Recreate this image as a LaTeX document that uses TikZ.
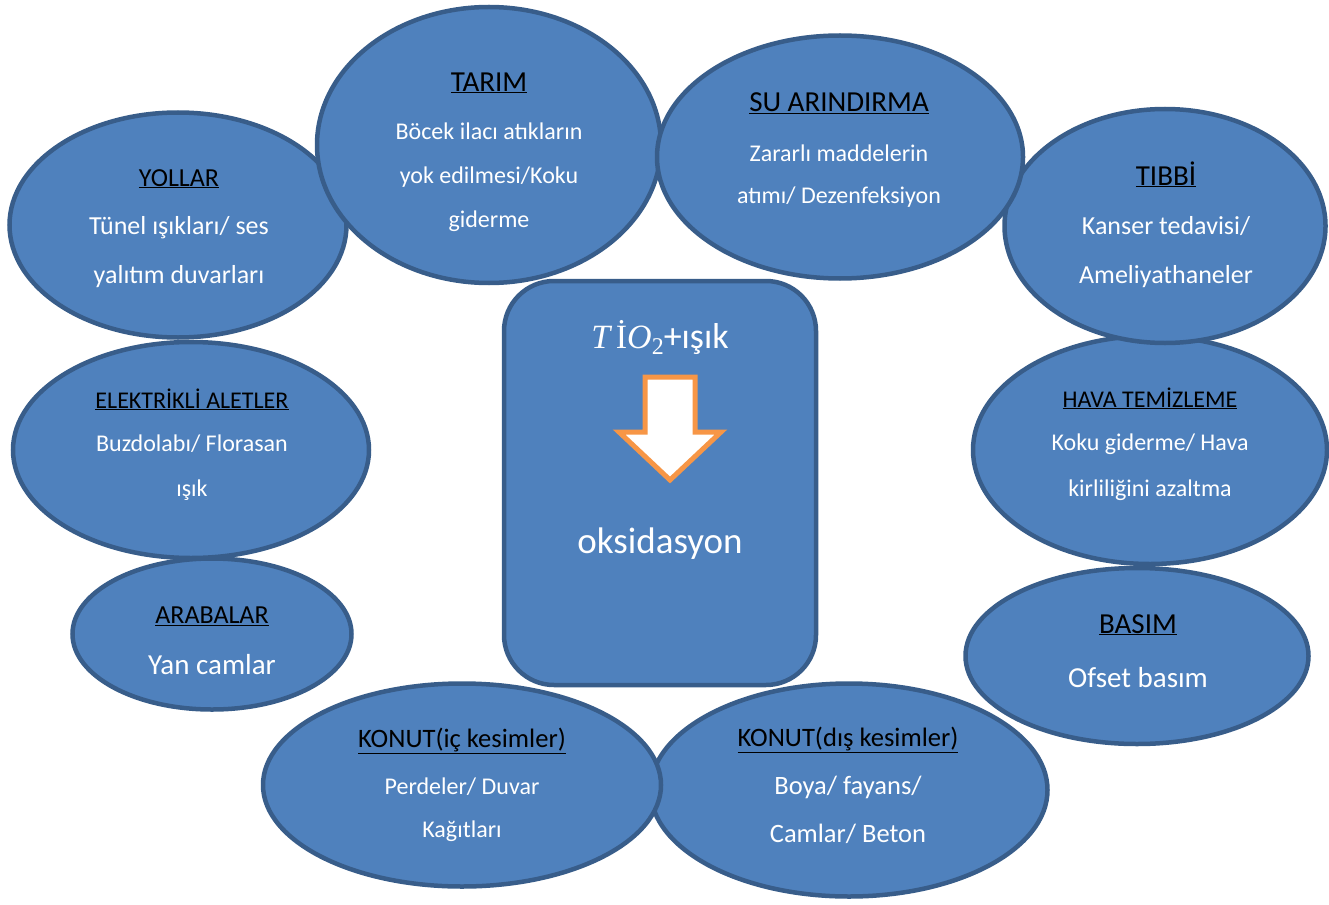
\documentclass[tikz,border=0pt]{standalone}
\usepackage{fontspec}
\setmainfont{Carlito}
\newfontfamily\serifi{Liberation Serif}
\usetikzlibrary{shapes.geometric}
\definecolor{fillblue}{HTML}{4F81BD}
\definecolor{edgeblue}{HTML}{385D8A}
\definecolor{arroworange}{HTML}{F79646}
\newcommand{\ttl}[2][24]{{\color{black}\fontsize{#1}{#1}\selectfont\underline{#2}}}
\begin{document}
\begin{tikzpicture}[x=1pt,y=-1pt,
	bubble/.style={ellipse,draw=edgeblue,fill=fillblue,line width=4.5pt,inner sep=0pt},
	txt/.style={text=white,align=center,inner sep=0pt,anchor=base}]
		\useasboundingbox (0,0) rectangle (1329,904);
		% centre box
		\node[draw=edgeblue,fill=fillblue,line width=4.5pt,rounded corners=50pt,minimum width=312pt,minimum height=404pt] (core) at (660,483) {};
		\node[txt,font=\fontsize{36}{36}\selectfont] (tio) at (660,348) {{\serifi\fontsize{34}{34}\selectfont\itshape T\,}{\serifi\fontsize{34}{34}\selectfont İ}{\serifi\fontsize{34}{34}\selectfont\itshape O}\raisebox{-6pt}{\serifi\fontsize{24}{24}\selectfont 2}+ışık};
		\draw[arroworange,line width=5pt,fill=white] (645,377) -- (695,377) -- (695,432) -- (721,432) -- (670,480) -- (619,432) -- (645,432) -- cycle;
		\node[txt,font=\fontsize{37}{37}\selectfont] (oks) at (660,553) {oksidasyon};
		% ellipses (text nodes sit on their last line)
		\node[bubble,minimum width=354pt,minimum height=228pt] (hava) at (1150,450) {};
		\node[txt,font=\fontsize{24}{46}\selectfont] (havat) at (1150,496) {\ttl{HAVA TEMİZLEME}\\[-3pt]Koku giderme/ Hava\\kirliliğini azaltma};
		\node[bubble,minimum width=321pt,minimum height=234pt] (tibbi) at (1165,226) {};
		\node[txt,font=\fontsize{26}{49}\selectfont] (tibbit) at (1166,283) {\ttl[29]{TIBBİ}\\Kanser tedavisi/\\Ameliyathaneler};
		\node[bubble,minimum width=337pt,minimum height=225pt] (yollar) at (178,225) {};
		\node[txt,font=\fontsize{26}{49}\selectfont] (yollart) at (179,283) {\ttl[26]{YOLLAR}\\[-1pt]Tünel ışıkları/ ses\\yalıtım duvarları};
		\node[bubble,minimum width=344pt,minimum height=276pt] (tarim) at (489,145) {};
		\node[txt,font=\fontsize{24}{44}\selectfont] (tarimt) at (489,227) {\ttl[29]{TARIM}\\[4pt]Böcek ilacı atıkların\\yok edilmesi/Koku\\giderme};
		\node[bubble,minimum width=366pt,minimum height=243pt] (su) at (840,157) {};
		\node[txt,font=\fontsize{24}{43}\selectfont] (sut) at (839,204) {\ttl[29]{SU ARINDIRMA}\\[6pt]Zararlı maddelerin\\atımı/ Dezenfeksiyon};
		\node[bubble,minimum width=356pt,minimum height=216pt] (elek) at (191,450) {};
		\node[txt,font=\fontsize{24}{45}\selectfont] (elekt) at (192,496) {\ttl{ELEKTRİKLİ ALETLER}\\[-2pt]Buzdolabı/ Florasan\\ışık};
		\node[bubble,minimum width=343pt,minimum height=176pt] (basim) at (1137,656) {};
		\node[txt,font=\fontsize{29}{54}\selectfont] (basimt) at (1138,687) {\ttl[29]{BASIM}\\Ofset basım};
		\node[bubble,minimum width=279pt,minimum height=151pt] (araba) at (212,634) {};
		\node[txt,font=\fontsize{29}{51}\selectfont] (arabat) at (212,674.5) {\ttl[26]{ARABALAR}\\Yan camlar};
		\node[bubble,minimum width=397pt,minimum height=213pt] (dis) at (849,790) {};
		\node[txt,font=\fontsize{26.5}{48}\selectfont] (dist) at (848,842.5) {\ttl[26.6]{KONUT(dış kesimler)}\\[0pt]Boya/ fayans/\\Camlar/ Beton};
		\node[bubble,minimum width=398pt,minimum height=203pt] (ic) at (462,785) {};
		\node[txt,font=\fontsize{24}{43}\selectfont] (ict) at (462,837.5) {\ttl[26.6]{KONUT(iç kesimler)}\\[4pt]Perdeler/ Duvar\\Kağıtları};
	\end{tikzpicture}
\end{document}
